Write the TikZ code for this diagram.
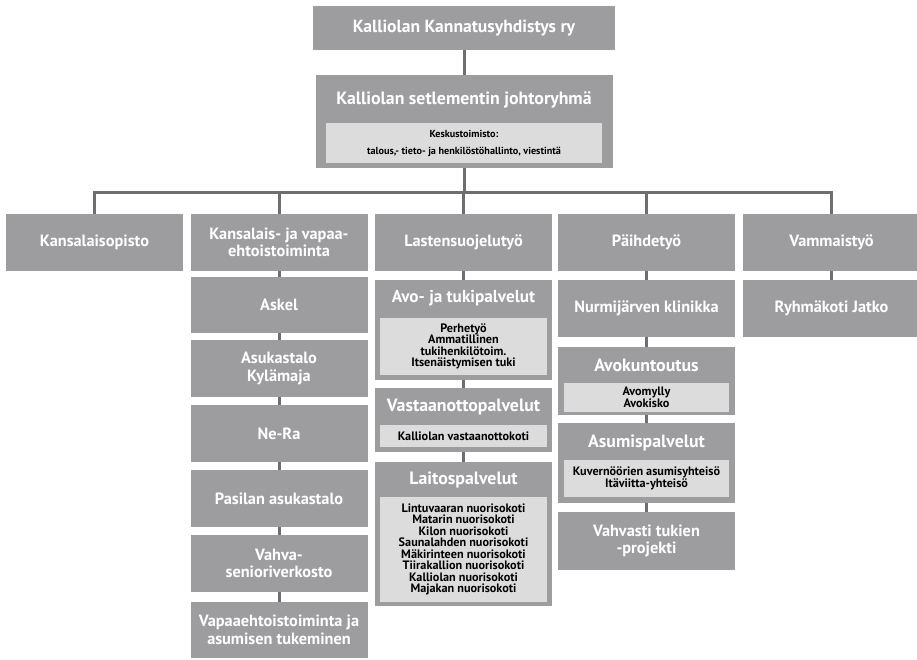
\documentclass[tikz,border=0pt]{standalone}
\usepackage{fontspec}
\setmainfont{PT Sans}
\usetikzlibrary{positioning}
\definecolor{BoxGray}{RGB}{157,157,159}
\definecolor{InGray}{RGB}{220,220,221}
\definecolor{LineGray}{RGB}{110,110,112}

\begin{document}
\begin{tikzpicture}[x=1pt,y=-1pt,
    box/.style={fill=BoxGray, text=white, align=center, inner sep=0pt, minimum width=177pt, minimum height=57pt, font=\fontsize{16.3}{17.5}\selectfont\bfseries},
    frame/.style={fill=BoxGray, inner sep=0pt, minimum width=177pt},
    head/.style={text=white, inner sep=0pt, font=\fontsize{17.8}{19}\selectfont\bfseries},
    inbox/.style={fill=InGray, align=center, inner sep=0pt, minimum width=167pt, font=\fontsize{12.2}{11.5}\selectfont\bfseries},
    link/.style={draw=LineGray, line width=3pt}]
  \useasboundingbox (0,0) rectangle (917,660);
  \node[box, minimum width=302pt, minimum height=44pt, font=\fontsize{17.6}{19}\selectfont\bfseries] (top) at (464,28) {Kalliolan Kannatusyhdistys ry};
  \node[frame, minimum width=297pt, minimum height=93pt] (johto) at (464,121.5) {};
  \node[head, font=\fontsize{17.8}{20}\selectfont\bfseries] (johtoT) at (464,100) {Kalliolan setlementin johtoryhmä};
  \node[inbox, minimum width=276pt, minimum height=40pt, font=\fontsize{10.2}{17}\selectfont\bfseries] (johtoIn) at (464,143) {Keskustoimisto:\\talous,- tieto- ja henkilöstöhallinto, viestintä};
  \coordinate (bus) at (464,193);

  \node[box] (kansa) at (94.5,242.5) {Kansalaisopisto};
  \node[box] (kv) at (279,242.5) {Kansalais- ja vapaa-\\ehtoistoiminta};
  \node[box] (lasten) at (463.5,242.5) {Lastensuojelutyö};
  \node[box] (paihde) at (646.5,242.5) {Päihdetyö};
  \node[box] (vamma) at (831.5,242.5) {Vammaistyö};

  \node[box, minimum height=56pt] (askel) at (279,305) {Askel};
  \node[box] (asukas) at (279,368.5) {Asukastalo\\Kylämaja};
  \node[box] (nera) at (279,433.5) {Ne-Ra};
  \node[box] (pasila) at (279,498.5) {Pasilan asukastalo};
  \node[box] (vahva) at (279,563.5) {Vahva-\\senioriverkosto};
  \node[box, minimum height=56pt] (vapaa) at (279,630) {Vapaaehtoistoiminta ja\\asumisen tukeminen};

  \node[frame, minimum height=100pt] (avo) at (463.5,330) {};
  \node[head, font=\fontsize{17.2}{19}\selectfont\bfseries] (avoT) at (463.5,298) {Avo- ja tukipalvelut};
  \node[inbox, minimum height=57pt] (avoIn) at (463.5,346.5) {Perhetyö\\Ammatillinen\\tukihenkilötoim.\\Itsenäistymisen tuki};
  \node[frame, minimum height=64pt] (vast) at (463.5,420) {};
  \node[head] (vastT) at (463.5,407) {Vastaanottopalvelut};
  \node[inbox, minimum height=22pt] (vastIn) at (463.5,436) {Kalliolan vastaanottokoti};
  \node[frame, minimum height=144pt] (laitos) at (463.5,534) {};
  \node[head] (laitosT) at (463.5,480) {Laitospalvelut};
  \node[inbox, minimum height=105pt] (laitosIn) at (463.5,549.5) {Lintuvaaran nuorisokoti\\Matarin nuorisokoti\\Kilon nuorisokoti\\Saunalahden nuorisokoti\\Mäkirinteen nuorisokoti\\Tiirakallion nuorisokoti\\Kalliolan nuorisokoti\\Majakan nuorisokoti};

  \node[box] (nurmi) at (646.5,308.5) {Nurmijärven klinikka};
  \node[frame, minimum height=68pt] (avok) at (646.5,381) {};
  \node[head] (avokT) at (646.5,365) {Avokuntoutus};
  \node[inbox, minimum width=165pt, minimum height=29pt] (avokIn) at (646.5,397.5) {Avomylly\\Avokisko};
  \node[frame, minimum height=80pt] (asum) at (646.5,463) {};
  \node[head] (asumT) at (646.5,443) {Asumispalvelut};
  \node[inbox, minimum width=165pt, minimum height=37pt] (asumIn) at (646.5,478.5) {Kuvernöörien asumisyhteisö\\Itäviitta-yhteisö};
  \node[box, minimum height=58pt] (vahvasti) at (646.5,541) {Vahvasti tukien\\-projekti};

  \node[box] (ryhma) at (831.5,308.5) {Ryhmäkoti Jatko};

  \draw[link] (top) -- (johto);
  \draw[link] (johto) -- (bus);
  \draw[link] (kansa) |- (bus) -| (vamma);
  \draw[link] (kv) -- (kv |- bus);
  \draw[link] (lasten) -- (lasten |- bus);
  \draw[link] (paihde) -- (paihde |- bus);
  \draw[link] (kv) -- (askel);
  \draw[link] (askel) -- (asukas);
  \draw[link] (asukas) -- (nera);
  \draw[link] (nera) -- (pasila);
  \draw[link] (pasila) -- (vahva);
  \draw[link] (vahva) -- (vapaa);
  \draw[link] (lasten) -- (avo);
  \draw[link] (avo) -- (vast);
  \draw[link] (vast) -- (laitos);
  \draw[link] (paihde) -- (nurmi);
  \draw[link] (nurmi) -- (avok);
  \draw[link] (avok) -- (asum);
  \draw[link] (asum) -- (vahvasti);
  \draw[link] (vamma) -- (ryhma);
\end{tikzpicture}
\end{document}
